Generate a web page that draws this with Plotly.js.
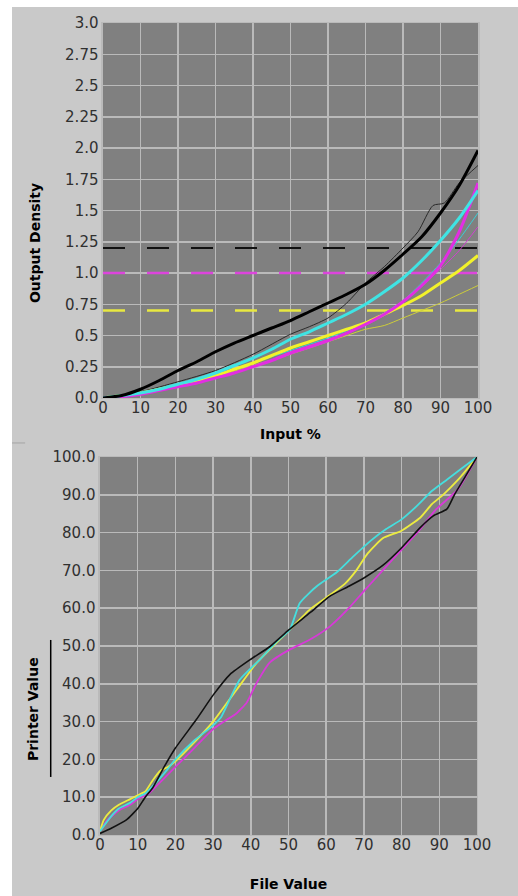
<!DOCTYPE html>
<html>
<head>
<meta charset="utf-8">
<script src="https://cdn.plot.ly/plotly-3.0.1.min.js"></script>
<style>
html,body{margin:0;padding:0;background:#ffffff;width:518px;height:896px;overflow:hidden;}
#chart{position:absolute;left:12px;top:7px;width:506px;height:889px;}
</style>
</head>
<body>
<div id="chart"></div>
<script>
// ---------- Top chart: Output Density vs Input % ----------
var densX = [0,5,10,15,20,25,30,35,40,45,50,55,60,65,70,75,80,85,90,95,100];
var blackThick   = [0,0.02,0.07,0.14,0.22,0.29,0.37,0.44,0.50,0.56,0.62,0.69,0.76,0.83,0.91,1.02,1.15,1.29,1.48,1.70,1.98];
var cyanThick    = [0,0.02,0.04,0.07,0.11,0.15,0.20,0.26,0.32,0.39,0.47,0.53,0.60,0.67,0.75,0.85,0.96,1.10,1.26,1.44,1.66];
var magentaThick = [0,0.01,0.03,0.06,0.09,0.12,0.16,0.20,0.25,0.30,0.36,0.41,0.46,0.52,0.59,0.67,0.77,0.90,1.06,1.33,1.72];
var yellowThick  = [0,0.02,0.04,0.07,0.10,0.14,0.18,0.23,0.28,0.34,0.40,0.45,0.50,0.55,0.60,0.67,0.74,0.82,0.92,1.02,1.14];

var blackThinX = [0,10,20,30,40,50,55,60,65,70,75,80,84,88,91,95,100];
var blackThin  = [0,0.05,0.13,0.22,0.35,0.51,0.57,0.64,0.76,0.92,1.05,1.20,1.33,1.54,1.56,1.72,1.86];
var cyanThinX = [0,10,20,30,40,50,60,70,75,80,85,90,95,100];
var cyanThin  = [0,0.04,0.10,0.18,0.28,0.38,0.48,0.60,0.68,0.78,0.92,1.08,1.27,1.48];
var magentaThinX = [0,10,20,30,40,50,60,70,75,80,85,90,95,100];
var magentaThin  = [0,0.03,0.09,0.16,0.25,0.35,0.45,0.58,0.66,0.77,0.90,1.03,1.18,1.37];
var yellowThinX = [0,10,20,30,40,50,60,65,70,75,80,85,90,95,100];
var yellowThin  = [0,0.03,0.09,0.17,0.26,0.35,0.45,0.50,0.55,0.58,0.64,0.70,0.76,0.83,0.90];

var targetX = [0,100];
var targetBlack = 1.2, targetMagenta = 1.0, targetYellow = 0.7;

var densTickVals = [0,0.25,0.5,0.75,1.0,1.25,1.5,1.75,2.0,2.25,2.5,2.75,3.0];
var densTickText = ["0.0","0.25","0.5","0.75","1.0","1.25","1.5","1.75","2.0","2.25","2.5","2.75","3.0"];
var inputTicks = [0,10,20,30,40,50,60,70,80,90,100];

// ---------- Bottom chart: Printer Value vs File Value ----------
var pvBlackX = [0,3,7,10,12,14,17,20,25.6,30,34.5,40,45,50,55.7,61,66,70,75,80,85,88.5,92,94,97,100];
var pvBlack  = [0.4,1.8,4,7,10,12.5,18,23,30.6,37,42.5,46.5,49.8,54.2,58.8,63.2,65.8,68,71.3,76,81.4,84.5,86.2,90,95,100];
var pvCyanX = [0,3,5,8,10,12,15,18,20,25,30,32,37,42.4,47,50.4,53,57.5,62.8,67,72,76,80,84,88,92,96,100];
var pvCyan  = [1,5,7,8.5,10,11,14,17.5,20,25,29,31,41,46.4,51.3,54.4,61.4,65.8,69.5,73.5,78,81,83.5,87,91,94,97,100];
var pvYellowX = [0,1,3,5,8,10,12,14,16,18,20,25,30,36.3,41.6,47,50.4,55.7,61,65,68,71,75,80,85,88,91,95,100];
var pvYellow  = [1,4,6.5,8,9.5,10.5,11.5,14.5,17,18,19.5,24.5,30,38.5,45.6,51,54.4,59.7,63.5,66.5,70,74.5,78.5,80.5,84,87.5,90,94,100];
var pvMagentaX = [0,2,5,8,10,13,15,20,25,30,33.6,36,38.9,41.6,45,50.4,55.7,61,66,70,75,80,85,89,95,100];
var pvMagenta  = [1,4,6.5,8,9.5,11,13,18,23,28,30.5,32,35,40.3,45.6,49.1,51.7,55.2,60,64.5,70,75.5,81,86,91.5,100];

var pvTicks = [0,10,20,30,40,50,60,70,80,90,100];

var cBlack = '#000000', cCyan = '#3fe4e4', cMagenta = '#e22ee2', cYellow = '#f2f22a';
var cBlackThin = '#2a2a2a', cCyanThin = '#38cfd6', cMagentaThin = '#d040d0', cYellowThin = '#cdcd3a';

function ln(x, y, color, width, xa, ya, dash, smooth) {
  return {x: x, y: y, type: 'scatter', mode: 'lines', xaxis: xa, yaxis: ya, hoverinfo: 'skip',
          line: {color: color, width: width, shape: dash ? 'linear' : 'spline', smoothing: smooth || 0.7, dash: dash || 'solid'},
          showlegend: false};
}

var data = [
  ln(targetX, [targetBlack, targetBlack], '#111111', 2, 'x', 'y', '22px,22px'),
  ln(targetX, [targetMagenta, targetMagenta], '#dd44dd', 2.5, 'x', 'y', '22px,22px'),
  ln(targetX, [targetYellow, targetYellow], '#e8e840', 2.5, 'x', 'y', '22px,22px'),
  ln(yellowThinX, yellowThin, cYellowThin, 1, 'x', 'y'),
  ln(magentaThinX, magentaThin, cMagentaThin, 1, 'x', 'y'),
  ln(cyanThinX, cyanThin, cCyanThin, 1, 'x', 'y'),
  ln(blackThinX, blackThin, cBlackThin, 1, 'x', 'y'),
  ln(densX, yellowThick, cYellow, 3, 'x', 'y'),
  ln(densX, magentaThick, cMagenta, 3, 'x', 'y'),
  ln(densX, cyanThick, cCyan, 3, 'x', 'y'),
  ln(densX, blackThick, cBlack, 3, 'x', 'y'),

  ln(pvMagentaX, pvMagenta, '#d838d8', 1.8, 'x2', 'y2', null, 0.5),
  ln(pvYellowX, pvYellow, '#ecec40', 1.8, 'x2', 'y2', null, 0.5),
  ln(pvCyanX, pvCyan, '#45dede', 1.8, 'x2', 'y2', null, 0.5),
  ln(pvBlackX, pvBlack, '#111111', 1.6, 'x2', 'y2', null, 0.5)
];

var tickFont = {family: 'DejaVu Sans, Verdana, sans-serif', size: 15, color: '#303030'};
var titleFont = {family: 'DejaVu Sans, Verdana, sans-serif', size: 14, color: '#000000', weight: 'bold'};
var grid = '#bababa';

function axisCommon() {
  return {showgrid: true, gridcolor: grid, gridwidth: 1.5, zeroline: false, showline: true, linecolor: grid,
          linewidth: 1.5, mirror: true, ticks: '', tickfont: tickFont, fixedrange: true};
}

var xa = axisCommon();
Object.assign(xa, {domain: [0.17984, 0.92095], range: [0, 100], anchor: 'y', tickvals: inputTicks, ticklabelstandoff: -4,
  title: {text: 'Input %', font: titleFont, standoff: 12}});
var ya = axisCommon();
Object.assign(ya, {domain: [0.56018, 0.98200], range: [0, 3], anchor: 'x', tickvals: densTickVals, ticktext: densTickText});
var xa2 = axisCommon();
Object.assign(xa2, {domain: [0.17391, 0.91897], range: [0, 100], anchor: 'y2', tickvals: pvTicks, ticklabelstandoff: -4,
  title: {text: 'File Value', font: titleFont, standoff: 25}});
var ya2 = axisCommon();
Object.assign(ya2, {domain: [0.06862, 0.49381], range: [0, 100], anchor: 'x2', tickvals: pvTicks, tickformat: '.1f'});

var layout = {
  width: 506, height: 889,
  margin: {l: 0, r: 0, t: 0, b: 0, pad: 0},
  paper_bgcolor: '#c9c9c9',
  plot_bgcolor: '#808080',
  showlegend: false,
  xaxis: xa, yaxis: ya, xaxis2: xa2, yaxis2: ya2,
  annotations: [
    {text: 'Output Density', xref: 'paper', yref: 'paper', x: 0.04545, y: 0.7345, textangle: -90,
     showarrow: false, font: titleFont, xanchor: 'center', yanchor: 'middle'},
    {text: 'Printer Value', xref: 'paper', yref: 'paper', x: 0.0415, y: 0.2103, textangle: -90,
     showarrow: false, font: titleFont, xanchor: 'center', yanchor: 'middle'}
  ],
  shapes: [
    {type: 'line', xref: 'paper', yref: 'paper', x0: 0.0765, x1: 0.0765, y0: 0.1339, y1: 0.288,
     line: {color: '#000000', width: 1.5}},
    {type: 'line', xref: 'paper', yref: 'paper', x0: 0, x1: 0.026, y0: 0.5096, y1: 0.5096,
     line: {color: '#a6a6a6', width: 1}}
  ]
};

Plotly.newPlot('chart', data, layout, {displayModeBar: false, staticPlot: true});
</script>
</body>
</html>
